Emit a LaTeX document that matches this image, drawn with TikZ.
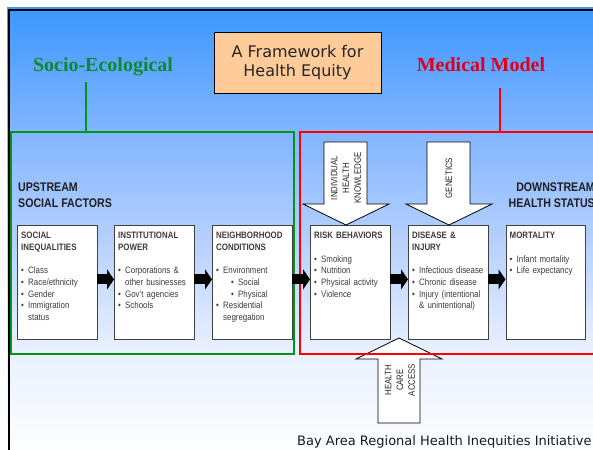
\documentclass[tikz,border=0pt]{standalone}
\usepackage{fontspec}
\setmainfont{Liberation Sans}
\newfontfamily\nfont{Liberation Sans}[FakeStretch=0.85]
\newfontfamily\dvfont{DejaVu Sans}
\newfontfamily\tsfont{Liberation Serif}
\usetikzlibrary{arrows.meta,calc}
\definecolor{gcol}{RGB}{0,150,20}
\definecolor{rcol}{RGB}{255,0,0}
\definecolor{setxt}{RGB}{10,140,40}
\definecolor{mmtxt}{RGB}{225,0,25}
\definecolor{peach}{RGB}{255,204,153}
\definecolor{btxt}{RGB}{60,60,60}
\pgfdeclareverticalshading{bgshade}{100bp}{rgb(0bp)=(1,1,1); rgb(25bp)=(1,1,1); rgb(37.5bp)=(0.91,0.94,1); rgb(50bp)=(0.70,0.81,1); rgb(62.5bp)=(0.49,0.70,1); rgb(75bp)=(0.23,0.59,1); rgb(100bp)=(0.23,0.59,1)}
\newcommand\bl[1]{\makebox[7pt][l]{\textbullet}#1}
\newcommand\cl[1]{\hspace*{7pt}#1}
\newcommand\sbl[1]{\hspace*{15pt}\makebox[7pt][l]{\textbullet}#1}
\begin{document}
\begin{tikzpicture}[x=1pt,y=-1pt,
  box/.style={draw=black!75, fill=white, line width=0.8pt, minimum width=79.5pt, minimum height=114pt, inner sep=0pt, anchor=north west},
  boxtxt/.style={anchor=north west, inner sep=0pt, text width=74pt, align=left, text=btxt, font=\nfont\fontsize{9.3}{11.7}\selectfont},
  blk/.style={line width=10pt, -{Triangle[width=20pt,length=7pt]}},
  bigarrow/.style={draw=black, fill=white, line width=0.8pt},
  rottxt/.style={rotate=90, align=center, inner sep=0pt, text=black!85, font=\nfont\fontsize{9.3}{11.7}\selectfont},
  hdr/.style={inner sep=0pt, text=black!88, font=\nfont\bfseries\fontsize{12.5}{16}\selectfont}
]
\useasboundingbox (0,0) rectangle (593,449);
% background frame
\fill[shading=bgshade] (7,8) rectangle (600,460);
\draw[line width=2pt] (9,470) -- (9,10) -- (600,10);
% title and model labels
\node[draw=black, fill=peach, line width=0.8pt, minimum width=167pt, minimum height=61pt, align=center, text=black!85, font=\dvfont\fontsize{16}{19}\selectfont] (title) at (297.5,62.5) {A Framework for\\Health Equity};
\node[anchor=base, inner sep=0pt, text=setxt, font=\tsfont\bfseries\fontsize{20}{24}\selectfont] (se) at (103,72) {Socio-Ecological};
\node[anchor=base, inner sep=0pt, text=mmtxt, font=\tsfont\bfseries\fontsize{20}{24}\selectfont] (mm) at (481,72) {Medical Model};
\coordinate (seA) at (86,82);
\coordinate (mmA) at (500,88);
% health care access arrow (under the red frame)
\draw[bigarrow] (378,423) -- (420,423) -- (420,359) -- (442,359) -- (399,338) -- (356,359) -- (378,359) -- cycle;
\node[rottxt] (hca) at (400,380) {HEALTH\\CARE\\ACCESS};
% model frames
\node[draw=gcol, line width=2pt, minimum width=283pt, minimum height=221.5pt, anchor=north west, inner sep=0pt] (gbox) at (10,131.5) {};
\node[draw=rcol, line width=2pt, minimum width=320pt, minimum height=221.5pt, anchor=north west, inner sep=0pt] (rbox) at (298.5,131.5) {};
\draw[gcol, line width=2pt] (seA) -- (seA |- gbox.north);
\draw[rcol, line width=2pt] (mmA) -- (mmA |- rbox.north);
% headers
\node[hdr, anchor=north west, align=left] (up) at (18,182.5) {UPSTREAM\\SOCIAL FACTORS};
\node[hdr, anchor=north east, align=right] (down) at (595,182.5) {DOWNSTREAM\\HEALTH STATUS};
% boxes
\node[box] (b1) at (17,225) {};
\node[box] (b2) at (114,225) {};
\node[box] (b3) at (212,225) {};
\node[box] (b4) at (310,225) {};
\node[box] (b5) at (408,225) {};
\node[box] (b6) at (505.5,225) {};
\node[boxtxt] (t1) at ($(b1.north west)+(4,7)$) {\textbf{SOCIAL}\\\textbf{INEQUALITIES}\\[11.7pt]\bl{Class}\\\bl{Race/ethnicity}\\\bl{Gender}\\\bl{Immigration}\\\cl{status}};
\node[boxtxt] (t2) at ($(b2.north west)+(4,7)$) {\textbf{INSTITUTIONAL}\\\textbf{POWER}\\[11.7pt]\bl{Corporations \&}\\\cl{other businesses}\\\bl{Gov’t agencies}\\\bl{Schools}};
\node[boxtxt] (t3) at ($(b3.north west)+(4,7)$) {\textbf{NEIGHBORHOOD}\\\textbf{CONDITIONS}\\[11.7pt]\bl{Environment}\\\sbl{Social}\\\sbl{Physical}\\\bl{Residential}\\\cl{segregation}};
\node[boxtxt] (t4) at ($(b4.north west)+(4,7)$) {\textbf{RISK BEHAVIORS}\\[11.7pt]\bl{Smoking}\\\bl{Nutrition}\\\bl{Physical activity}\\\bl{Violence}};
\node[boxtxt] (t5) at ($(b5.north west)+(4,7)$) {\textbf{DISEASE \&}\\\textbf{INJURY}\\[11.7pt]\bl{Infectious disease}\\\bl{Chronic disease}\\\bl{Injury (intentional}\\\cl{\& unintentional)}};
\node[boxtxt] (t6) at ($(b6.north west)+(4,7)$) {\textbf{MORTALITY}\\[11.7pt]\bl{Infant mortality}\\\bl{Life expectancy}};
% flow arrows
\draw[blk] ($(b1.east)+(0,-3)$) -- ($(b2.west)+(0,-3)$);
\draw[blk] ($(b2.east)+(0,-3)$) -- ($(b3.west)+(0,-3)$);
\draw[blk] ($(b3.east)+(0,-3)$) -- ($(b4.west)+(0,-3)$);
\draw[blk] ($(b4.east)+(0,-3)$) -- ($(b5.west)+(0,-3)$);
\draw[blk] ($(b5.east)+(0,-3)$) -- ($(b6.west)+(0,-3)$);
% down arrows
\draw[bigarrow] (324,142) -- (367,142) -- (367,204) -- (389,204) -- (346,225) -- (303,204) -- (324,204) -- cycle;
\node[rottxt] (ihk) at (346,178) {INDIVIDUAL\\HEALTH\\KNOWLEDGE};
\draw[bigarrow] (427,142) -- (470,142) -- (470,204) -- (492,204) -- (449,225) -- (406,204) -- (427,204) -- cycle;
\node[rottxt] (gen) at (449,178) {GENETICS};
% footer
\node[anchor=base west, inner sep=0pt, text=black!90, font=\dvfont\fontsize{13}{16}\selectfont] (foot) at (297,445) {Bay Area Regional Health Inequities Initiative};
\end{tikzpicture}
\end{document}
